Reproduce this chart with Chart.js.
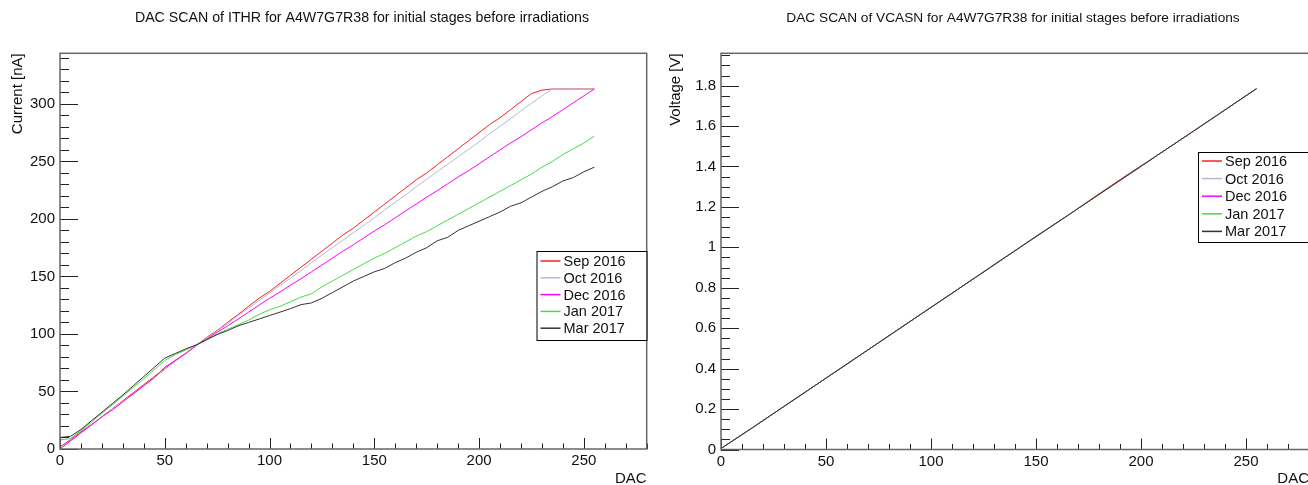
<!DOCTYPE html>
<html>
<head>
<meta charset="utf-8">
<script src="https://cdn.jsdelivr.net/npm/chart.js@4.4.1/dist/chart.umd.min.js"></script>
<style>
html, body { margin: 0; padding: 0; background: #fff; overflow: hidden; width: 1308px; height: 485px; }
#wrapL { position: absolute; left: 0; top: 0; }
#wrapR { position: absolute; left: 654px; top: 0; }
</style>
</head>
<body>
<div id="wrapL"><canvas id="ithrChart" width="654" height="485"></canvas></div>
<div id="wrapR"><canvas id="vcasnChart" width="680" height="485"></canvas></div>
<script>
// series labels and colours (ROOT style)
var labels = ['Sep 2016', 'Oct 2016', 'Dec 2016', 'Jan 2017', 'Mar 2017'];
var colors = ['#ff2020', '#b8b8d8', '#ff00ff', '#44dd44', '#333333'];

// ITHR scan, DAC step 5
var ithrDac = [0, 5, 10, 15, 20, 25, 30, 35, 40, 45, 50, 55, 60, 65, 70, 75, 80, 85, 90, 95,
  100, 105, 110, 115, 120, 125, 130, 135, 140, 145, 150, 155, 160, 165, 170, 175, 180, 185, 190, 195,
  200, 205, 210, 215, 220, 225, 230, 235, 240, 245, 250, 255];
var ithrSep = [0, 7, 14, 21, 28, 35, 42, 49, 56, 63, 70, 77, 83, 90, 97, 103, 110, 117, 124, 131,
  137, 144, 151, 158, 165, 172, 179, 186, 192, 199, 206, 213, 220, 227, 234, 240, 247, 254, 261, 268,
  275, 282, 288, 295, 302, 309, 312, 313, 313, 313, 313, 313];
var ithrOct = [1, 8, 15, 21.5, 28, 35, 41.5, 48, 55, 62, 69, 76, 83, 90, 96, 102.5, 109, 116, 122.5, 129,
  135.5, 142, 148.5, 155, 162, 168.5, 175, 181.5, 188, 194.5, 201, 208, 214.5, 221, 228, 234.5, 241, 247.5, 254, 260.5,
  267, 274, 280.5, 287, 294, 300.5, 307, 313, 313, 313, 313, 313];
var ithrDec = [2, 8, 15, 21, 28, 34, 41, 48, 55, 62, 71, 77, 83, 90, 95.5, 101.5, 107, 113, 119, 125,
  131, 136.5, 142.5, 148, 154, 160, 166, 172, 177.5, 183.5, 189.5, 195, 201, 207, 213, 219, 224.5, 230.5, 236.5, 242,
  248, 254, 260, 266, 271.5, 277.5, 283.5, 289, 295, 301, 307, 313];
var ithrJan = [8, 9, 16, 23.5, 31, 38.5, 46, 53.5, 61, 69, 77, 82, 86, 90.5, 95, 100, 104, 108, 112, 117,
  121, 124, 128, 132, 135, 141, 146, 151, 156, 161, 166, 170, 175, 180, 185, 189, 194, 199, 204, 209,
  214, 219, 224, 229, 234, 239, 245, 250, 256, 261, 266, 272];
var ithrMar = [10, 11, 17, 24.5, 32, 39.5, 47, 55, 63, 71, 79, 83, 87, 90.5, 95, 99.5, 103, 107, 110, 113,
  116, 119, 122, 125.5, 127, 131, 136, 141, 146, 150, 154, 157, 162, 166, 171, 175, 181, 184, 190, 194,
  198, 202, 206, 211, 214, 219, 224, 228, 233, 236, 241, 245];

// VCASN scan, DAC step 15
var vcasnDac = [0, 15, 30, 45, 60, 75, 90, 105, 120, 135, 150, 165, 180, 195, 210, 225, 240, 255];
var vcasnSep = [0.005, 0.108, 0.213, 0.318, 0.423, 0.528, 0.633, 0.738, 0.843, 0.950, 1.053, 1.157, 1.265, 1.370, 1.471, 1.575, 1.680, 1.785];
var vcasnOct = [0.005, 0.108, 0.213, 0.318, 0.423, 0.528, 0.633, 0.738, 0.843, 0.948, 1.053, 1.157, 1.262, 1.366, 1.471, 1.575, 1.680, 1.785];
var vcasnDec = [0.005, 0.108, 0.213, 0.318, 0.423, 0.528, 0.633, 0.738, 0.843, 0.948, 1.055, 1.157, 1.262, 1.366, 1.471, 1.575, 1.680, 1.785];
var vcasnJan = [0.005, 0.108, 0.214, 0.318, 0.423, 0.528, 0.634, 0.738, 0.843, 0.948, 1.053, 1.157, 1.262, 1.366, 1.471, 1.576, 1.680, 1.785];
var vcasnMar = [0.005, 0.108, 0.213, 0.318, 0.423, 0.528, 0.633, 0.738, 0.843, 0.948, 1.053, 1.157, 1.262, 1.366, 1.471, 1.575, 1.680, 1.785];

var ithrTitle = 'DAC SCAN of ITHR for A4W7G7R38 for initial stages before irradiations';
var vcasnTitle = 'DAC SCAN of VCASN for A4W7G7R38 for initial stages before irradiations';

Chart.defaults.font.family = '"Liberation Sans", Arial, Helvetica, sans-serif';
Chart.defaults.color = '#111';

function makeDatasets(dac, series) {
  return series.map(function (vals, i) {
    return {
      label: labels[i],
      data: dac.map(function (d, k) { return { x: d, y: vals[k] }; }),
      borderColor: colors[i],
      backgroundColor: colors[i],
      borderWidth: 1,
      pointRadius: 0,
      tension: 0,
      fill: false,
      order: series.length - i   // last series drawn on top, like ROOT
    };
  });
}

// draws ROOT-like frame, inward ticks, titles and legend box
var rootStyle = {
  id: 'rootStyle',
  afterDraw: function (chart, args, o) {
    var ctx = chart.ctx, a = chart.chartArea;
    var xs = chart.scales.x, ys = chart.scales.y;
    ctx.save();

    // ticks on x
    ctx.strokeStyle = '#222';
    ctx.lineWidth = 1;
    ctx.beginPath();
    for (var i = 0; i * o.xMinor <= xs.max + 1e-9; i++) {
      var px = Math.round(xs.getPixelForValue(i * o.xMinor)) + 0.5;
      var len = (i % o.xPer === 0) ? 11 : 5.5;
      ctx.moveTo(px, a.bottom);
      ctx.lineTo(px, a.bottom - len);
    }
    for (var j = 0; j * o.yMinor <= ys.max + 1e-9; j++) {
      var py = Math.round(ys.getPixelForValue(j * o.yMinor)) + 0.5;
      var len2 = (j % o.yPer === 0) ? 18 : 9;
      ctx.moveTo(a.left, py);
      ctx.lineTo(a.left + len2, py);
    }
    ctx.stroke();

    // frame
    ctx.strokeStyle = '#666';
    ctx.lineWidth = 1.5;
    ctx.strokeRect(a.left, a.top, a.right - a.left, a.bottom - a.top);

    // title
    ctx.fillStyle = '#111';
    ctx.font = o.titleFont;
    ctx.textAlign = 'center';
    ctx.textBaseline = 'middle';
    ctx.fillText(o.title, o.titleX, 18);

    // axis titles
    ctx.font = '15px "Liberation Sans", Arial, sans-serif';
    ctx.textAlign = 'right';
    ctx.textBaseline = 'alphabetic';
    ctx.fillText('DAC', a.right, 483);
    ctx.save();
    ctx.translate(o.yTitleX, a.top);
    ctx.rotate(-Math.PI / 2);
    ctx.textAlign = 'right';
    ctx.textBaseline = 'middle';
    ctx.fillText(o.yTitle, 0, 0);
    ctx.restore();

    // legend
    var L = o.legend;
    ctx.fillStyle = '#fff';
    ctx.fillRect(L.x, L.y, L.w, L.h);
    ctx.strokeStyle = '#000';
    ctx.lineWidth = 1;
    ctx.strokeRect(L.x + 0.5, L.y + 0.5, L.w, L.h);
    ctx.font = '14.5px "Liberation Sans", Arial, sans-serif';
    ctx.textAlign = 'left';
    ctx.textBaseline = 'middle';
    chart.data.datasets.forEach(function (ds, k) {
      var ry = L.y + L.row0 + k * L.step;
      ctx.strokeStyle = ds.borderColor;
      ctx.lineWidth = 1.5;
      ctx.beginPath();
      ctx.moveTo(L.x + 4, ry);
      ctx.lineTo(L.x + 24, ry);
      ctx.stroke();
      ctx.fillStyle = '#111';
      ctx.fillText(ds.label, L.x + 27, ry + 1);
    });
    ctx.restore();
  }
};

function makeChart(id, datasets, cfg) {
  var ctx = document.getElementById(id).getContext('2d');
  return new Chart(ctx, {
    type: 'line',
    data: { datasets: datasets },
    options: {
      responsive: false,
      animation: false,
      layout: { padding: { top: 53.3, right: cfg.padRight, bottom: 0, left: 0 } },
      plugins: {
        legend: { display: false },
        tooltip: { enabled: false },
        rootStyle: cfg.style
      },
      scales: {
        x: {
          type: 'linear',
          min: 0,
          max: 280,
          grid: { display: false, drawTicks: false },
          border: { display: false },
          ticks: { stepSize: 50, includeBounds: false, autoSkip: false, maxRotation: 0, padding: 3, font: { size: 15 } },
          afterFit: function (s) { s.height = cfg.xHeight; }
        },
        y: {
          min: 0,
          max: cfg.yMax,
          grid: { display: false, drawTicks: false },
          border: { display: false },
          ticks: {
            stepSize: cfg.yStep, includeBounds: false, padding: 5, font: { size: 15 },
            callback: function (v) { return String(+v.toFixed(2)); }
          },
          afterFit: function (s) { s.width = cfg.yWidth; }
        }
      }
    },
    plugins: [rootStyle]
  });
}

makeChart('ithrChart',
  makeDatasets(ithrDac, [ithrSep, ithrOct, ithrDec, ithrJan, ithrMar]),
  {
    padRight: 7.3, xHeight: 36, yWidth: 60, yMax: 344, yStep: 50,
    style: {
      title: ithrTitle, titleX: 362, titleFont: '14.2px "Liberation Sans", Arial, sans-serif',
      yTitle: 'Current [nA]', yTitleX: 18,
      xMinor: 10, xPer: 5, yMinor: 10, yPer: 5,
      legend: { x: 536.5, y: 251, w: 110, h: 89, row0: 10, step: 16.8 }
    }
  });

makeChart('vcasnChart',
  makeDatasets(vcasnDac, [vcasnSep, vcasnOct, vcasnDec, vcasnJan, vcasnMar]),
  {
    padRight: 25, xHeight: 35.5, yWidth: 67, yMax: 1.96, yStep: 0.2,
    style: {
      title: vcasnTitle, titleX: 359, titleFont: '13.7px "Liberation Sans", Arial, sans-serif',
      yTitle: 'Voltage [V]', yTitleX: 22,
      xMinor: 10, xPer: 5, yMinor: 0.05, yPer: 4,
      legend: { x: 544, y: 152, w: 130, h: 90, row0: 9, step: 17.6 }
    }
  });
</script>
</body>
</html>
